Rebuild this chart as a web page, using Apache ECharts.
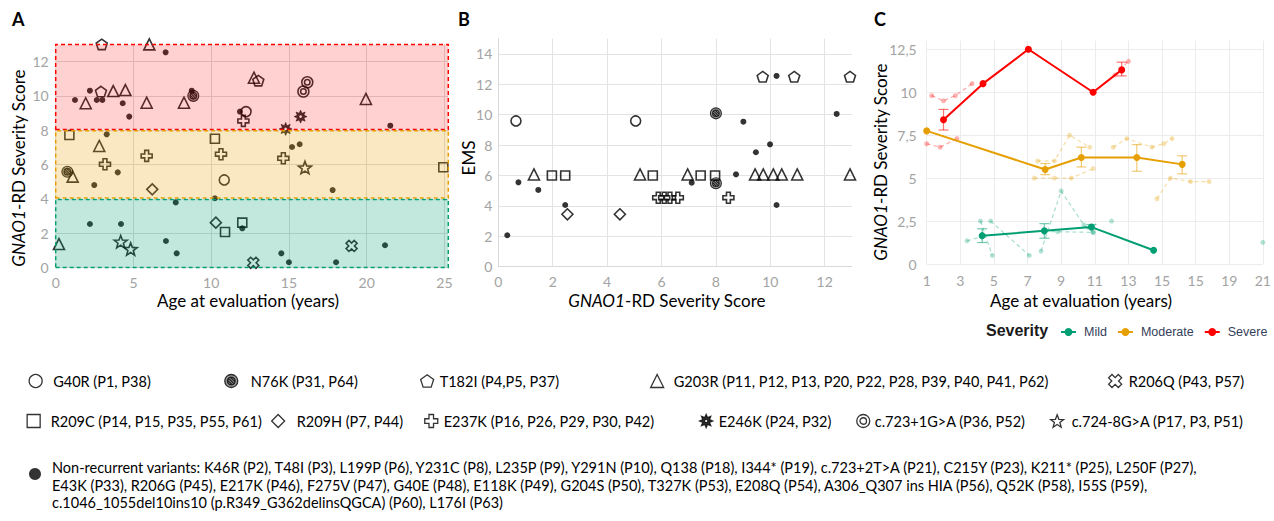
<!DOCTYPE html>
<html><head><meta charset="utf-8">
<script src="https://cdn.jsdelivr.net/npm/echarts@6/dist/echarts.min.js"></script>
<style>html,body{margin:0;padding:0;background:#fff}#c{width:1274px;height:521px}</style>
</head><body><div id="c"></div>
<script>
// ---------------- DATA ----------------
// Panel A: [age at evaluation (years), GNAO1-RD severity score]
const a_G40R  = [[12.24,9.08],[10.84,5.1]];
const a_N76K  = [[8.85,10.0],[0.75,5.58]];
const a_T182I = [[2.96,13.0],[2.91,10.25],[13.03,10.89]];
const a_G203R = [[6.02,13.0],[1.93,9.57],[3.7,10.28],[4.48,10.34],[5.85,9.6],[8.25,9.6],[12.75,11.06],[19.95,9.82],[2.8,7.08],[1.09,5.29],[0.21,1.36]];
const a_R206Q = [[12.71,0.27],[19.03,1.25]];
const a_R209C = [[0.88,7.72],[10.24,7.5],[24.93,5.84],[10.89,2.06],[12.0,2.61]];
const a_R209H = [[6.21,4.55],[10.3,2.61]];
const a_E237K = [[3.17,6.01],[5.85,6.5],[10.63,6.6],[14.64,6.36],[12.07,8.54]];
const a_E246K = [[15.75,8.79],[14.79,8.07]];
const a_c723  = [[16.18,10.79],[15.93,10.25]];
const a_c724  = [[4.18,1.5],[4.82,1.07],[16.03,5.82]];
const a_NonRec = [[7.07,12.54],[1.24,9.76],[2.2,10.3],[2.64,9.76],[3.0,9.76],[4.31,9.57],[4.73,8.79],[8.75,10.3],[11.85,9.08],[21.52,8.26],[3.28,7.76],[2.48,4.8],[3.99,5.54],[15.2,7.02],[15.69,7.18],[17.81,4.51],[10.24,4.03],[2.2,2.53],[4.2,2.53],[7.72,3.79],[7.09,1.54],[7.78,0.82],[12.0,2.28],[14.51,0.82],[15.0,0.3],[18.03,0.3],[21.18,1.29]];
// severity bands in panel A: [from, to]
const bandMild = [0, 3.96], bandModerate = [4.04, 7.96], bandSevere = [8.04, 13];

// Panel B: [GNAO1-RD severity score, EMS]
const b_G40R  = [[0.65,9.59],[5.05,9.59]];
const b_N76K  = [[8.0,10.09],[8.0,5.49]];
const b_T182I = [[9.72,12.5],[10.88,12.5],[12.93,12.5]];
const b_G203R = [[1.31,6.07],[5.21,6.07],[6.96,6.07],[9.44,6.07],[9.74,6.07],[10.11,6.07],[10.42,6.07],[10.99,6.07],[12.93,6.07]];
const b_R209C = [[1.97,6.0],[2.46,6.0],[5.68,6.0],[7.44,6.0],[7.97,6.0]];
const b_R209H = [[2.54,3.45],[4.47,3.45]];
const b_E237K = [[5.88,4.54],[6.1,4.54],[6.31,4.54],[6.6,4.54],[8.46,4.54]];
const b_NonRec = [[0.33,2.07],[0.74,5.55],[1.47,5.05],[2.46,4.06],[7.11,5.53],[8.74,6.08],[9.01,9.54],[9.47,7.53],[9.99,8.05],[10.23,4.06],[10.23,12.55],[12.44,10.05]];

// Panel C: mean trajectories [age, score], error bars [age, low, high]
const severeMean   = [[2.0,8.4],[4.35,10.5],[7.05,12.5],[10.9,10.0],[12.6,11.3]];
const severeErr    = [[2.0,7.8,9.0],[12.6,10.95,11.75]];
const moderateMean = [[1.0,7.75],[8.05,5.5],[10.2,6.2],[13.5,6.2],[16.2,5.8]];
const moderateErr  = [[8.05,5.2,5.85],[10.2,5.65,6.8],[13.5,5.4,6.95],[16.2,5.25,6.3]];
const mildMean     = [[4.3,1.65],[8.0,1.93],[10.8,2.15],[14.5,0.8]];
const mildErr      = [[4.3,1.25,2.05],[8.0,1.5,2.35],[10.8,2.05,2.3]];
// individual (faint, dashed) trajectories
const severeInd = [
  [[1.3,9.8],[2.0,9.5],[2.7,9.8],[3.7,10.5]],
  [[1.0,7.0],[1.8,6.8],[2.8,7.3]],
  [[12.2,11.0],[13.0,11.8]]
];
const moderateInd = [
  [[7.6,6.0],[8.6,6.0],[9.5,7.5],[10.7,6.8]],
  [[7.4,5.0],[8.6,5.0],[9.6,5.0],[10.9,5.55]],
  [[12.1,6.8],[12.9,7.3],[14.4,6.8],[15.1,7.0],[15.6,7.3]],
  [[14.7,3.8],[15.5,5.0],[16.7,4.8],[17.8,4.8]]
];
const mildInd = [
  [[3.4,1.35],[4.3,1.6]],
  [[4.2,2.5],[4.9,0.5]],
  [[4.8,2.5],[7.1,0.5]],
  [[7.8,0.75],[9.0,4.25],[10.35,2.27],[10.9,1.84]],
  [[8.0,1.9],[8.8,1.88],[10.9,1.84]],
  [[12.0,2.5]],
  [[21.0,1.26]]
];
const cXLabels = ['1','3','5','7','9','11','13','15','15','19','21'];

// legend texts
const legendText = {
  G40R: 'G40R (P1, P38)',
  N76K: 'N76K (P31, P64)',
  T182I: 'T182I (P4,P5, P37)',
  G203R: 'G203R (P11, P12, P13, P20, P22, P28, P39, P40, P41, P62)',
  R206Q: 'R206Q (P43, P57)',
  R209C: 'R209C (P14, P15, P35, P55, P61)',
  R209H: 'R209H (P7, P44)',
  E237K: 'E237K (P16, P26, P29, P30, P42)',
  E246K: 'E246K (P24, P32)',
  c723: 'c.723+1G>A (P36, P52)',
  c724: 'c.724-8G>A (P17, P3, P51)'
};
const nonRecLines = [
  'Non-recurrent variants: K46R (P2), T48I (P3), L199P (P6), Y231C (P8), L235P (P9), Y291N (P10), Q138 (P18), I344* (P19), c.723+2T>A (P21), C215Y (P23), K211* (P25), L250F (P27),',
  'E43K (P33), R206G (P45), E217K (P46), F275V (P47), G40E (P48), E118K (P49), G204S (P50), T327K (P53), E208Q (P54), A306_Q307 ins HIA (P56), Q52K (P58), I55S (P59),',
  'c.1046_1055del10ins10 (p.R349_G362delinsQGCA) (P60), L176I (P63)'
];

// ---------------- STYLE ----------------
const RED = '#FF0000', ORANGE = '#E69F00', GREEN = '#009E73';
const FONT = 'Lato';
const TICK = '#a3a3a3';
const hollow = {color:'rgba(0,0,0,0)', borderColor:'#000', borderWidth:1.6};
const sym = {
  G40R:  {symbol:'circle', size:10, style:hollow},
  N76K:  {symbol:'path://M-10,0 A10,10 0 1,1 10,0 A10,10 0 1,1 -10,0 Z M-6,0 A6,6 0 1,1 6,0 A6,6 0 1,1 -6,0 Z M-4.2,-4.2 L4.2,4.2 M-5.5,-1 L1,5.5 M-1,-5.5 L5.5,1', size:11, style:{color:'#8a8a8a', borderColor:'#000', borderWidth:1.1}},
  T182I: {symbol:'path://M0,-10 L9.511,-3.09 L5.878,8.09 L-5.878,8.09 L-9.511,-3.09 Z', size:11, style:hollow},
  G203R: {symbol:'triangle', size:11, style:hollow},
  R206Q: {symbol:'path://M4.596,-9.546 L9.546,-4.596 L4.95,0 L9.546,4.596 L4.596,9.546 L0,4.95 L-4.596,9.546 L-9.546,4.596 L-4.95,0 L-9.546,-4.596 L-4.596,-9.546 L0,-4.95 Z', size:11, style:hollow},
  R209C: {symbol:'rect', size:9, style:hollow},
  R209H: {symbol:'diamond', size:11, style:hollow},
  E237K: {symbol:'path://M-3.5,-10 L3.5,-10 L3.5,-3.5 L10,-3.5 L10,3.5 L3.5,3.5 L3.5,10 L-3.5,10 L-3.5,3.5 L-10,3.5 L-10,-3.5 L-3.5,-3.5 Z', size:11, style:hollow},
  E246K: {symbol:'path://M0,-10 L2.105,-5.081 L7.071,-7.071 L5.081,-2.105 L10,0 L5.081,2.105 L7.071,7.071 L2.105,5.081 L0,10 L-2.105,5.081 L-7.071,7.071 L-5.081,2.105 L-10,0 L-5.081,-2.105 L-7.071,-7.071 L-2.105,-5.081 Z M-2.6,0 A2.6,2.6 0 1,0 2.6,0 A2.6,2.6 0 1,0 -2.6,0 Z', size:13, style:{color:'#000', borderColor:'#000', borderWidth:0.6}},
  c723:  {symbol:'path://M-10,0 A10,10 0 1,1 10,0 A10,10 0 1,1 -10,0 Z M-5,0 A5,5 0 1,1 5,0 A5,5 0 1,1 -5,0 Z', size:11, style:hollow},
  c724:  {symbol:'path://M0,-10 L2.469,-3.398 L9.511,-3.09 L3.995,1.298 L5.878,8.09 L0,4.2 L-5.878,8.09 L-3.995,1.298 L-9.511,-3.09 L-2.469,-3.398 Z', size:13, style:hollow},
  NonRec:{symbol:'circle', size:6, style:{color:'#000'}}
};

function sc(key, data, gi) {
  const s = sym[key];
  return {type:'scatter', name:key, xAxisIndex:gi, yAxisIndex:gi, data:data,
    symbol:s.symbol, symbolSize:s.size, symbolKeepAspect:true,
    itemStyle:s.style, z:2, silent:true, emphasis:{disabled:true}};
}

const series = [];
// Panel A
[['G40R',a_G40R],['N76K',a_N76K],['T182I',a_T182I],['G203R',a_G203R],['R206Q',a_R206Q],['R209C',a_R209C],
 ['R209H',a_R209H],['E237K',a_E237K],['E246K',a_E246K],['c723',a_c723],['c724',a_c724],['NonRec',a_NonRec]]
 .forEach(([k,d]) => series.push(sc(k,d,0)));
// bands overlay (above markers -> tinted markers)
function band(r, fill, stroke) {
  return [{xAxis:'min', yAxis:r[0], itemStyle:{color:fill, borderColor:stroke, borderWidth:1.5, borderType:[4,3]}}, {xAxis:'max', yAxis:r[1]}];
}
series.push({type:'scatter', name:'bands', xAxisIndex:0, yAxisIndex:0, data:[], z:6, silent:true,
  markArea:{silent:true, z:6, data:[
    band(bandSevere,'rgba(255,0,0,0.18)',RED),
    band(bandModerate,'rgba(230,159,0,0.24)',ORANGE),
    band(bandMild,'rgba(0,158,115,0.24)',GREEN)
  ]}});
// Panel B
[['G40R',b_G40R],['N76K',b_N76K],['T182I',b_T182I],['G203R',b_G203R],['R209C',b_R209C],
 ['R209H',b_R209H],['E237K',b_E237K],['NonRec',b_NonRec]]
 .forEach(([k,d]) => series.push(sc(k,d,1)));
// Panel C
function faint(arr, color, tag) {
  arr.forEach((d,i) => series.push({type:'line', name:tag+i, xAxisIndex:2, yAxisIndex:2, data:d,
    symbol:'circle', symbolSize:5, showAllSymbol:true, silent:true, z:2,
    lineStyle:{type:[4,3], width:1.2, color:color, opacity:0.35},
    itemStyle:{color:color, opacity:0.3}, emphasis:{disabled:true}}));
}
faint(severeInd, RED, 'sevInd');
faint(moderateInd, ORANGE, 'modInd');
faint(mildInd, GREEN, 'mildInd');
function errs(data, color) {
  series.push({type:'custom', xAxisIndex:2, yAxisIndex:2, data:data, z:3, silent:true,
    encode:{x:0, y:[1,2]},
    renderItem:(params, api) => {
      const x = api.value(0), p1 = api.coord([x, api.value(1)]), p2 = api.coord([x, api.value(2)]);
      const hw = 5, st = {stroke:color, lineWidth:1.2, opacity:0.55};
      return {type:'group', children:[
        {type:'line', shape:{x1:p1[0], y1:p1[1], x2:p2[0], y2:p2[1]}, style:st},
        {type:'line', shape:{x1:p1[0]-hw, y1:p1[1], x2:p1[0]+hw, y2:p1[1]}, style:st},
        {type:'line', shape:{x1:p2[0]-hw, y1:p2[1], x2:p2[0]+hw, y2:p2[1]}, style:st}
      ]};
    }});
}
errs(severeErr, RED); errs(moderateErr, ORANGE); errs(mildErr, GREEN);
function mean(name, data, color) {
  series.push({type:'line', name:name, xAxisIndex:2, yAxisIndex:2, data:data, z:4, silent:true,
    symbol:'circle', symbolSize:7, showAllSymbol:true, lineStyle:{width:2, color:color},
    itemStyle:{color:color}, emphasis:{disabled:true}});
}
mean('Mild', mildMean, GREEN);
mean('Moderate', moderateMean, ORANGE);
mean('Severe', severeMean, RED);

// ---------------- LAYOUT ----------------
const legendLayout = [
  ['G40R', 35, 381, 6], ['N76K', 230.6, 381, 8], ['T182I', 426.5, 381, 1], ['G203R', 656.5, 381, 5], ['R206Q', 1114.5, 381, 2],
  ['R209C', 33, 421, 5.5], ['R209H', 277.5, 421, 7], ['E237K', 430.6, 421, 1], ['E246K', 705.5, 421, 1], ['c723', 862.6, 421, 0], ['c724', 1056.5, 421, 3]
];
const legends = legendLayout.map(([k, cx, cy, p]) => ({
  left: cx - 6.5, top: cy - 9, padding: 0, itemWidth: 13, itemHeight: 13, selectedMode: false,
  data: [k], formatter: () => legendText[k],
  itemStyle: {borderWidth: 1.3},
  textStyle: {fontFamily: FONT, fontSize: 14.5, color: '#000', lineHeight: 18, padding: [0,0,0,p]}
}));
legends.push({left: 35 - 6, top: 474 - 6, padding: 0, itemWidth: 12, itemHeight: 12, selectedMode: false,
  data: ['NonRec'], formatter: () => '', textStyle: {fontSize: 1}});
legends.push({left: 1060, top: 325, width: 260, padding: 0, itemWidth: 15, itemHeight: 10, itemGap: 10, selectedMode: false,
  orient: 'horizontal',
  data: ['Mild', 'Moderate', 'Severe'],
  textStyle: {fontFamily: 'Liberation Sans', fontSize: 12.5, color: '#34405a', lineHeight: 14, padding: [0,0,0,3]}});

const tickLabel = {color: TICK, fontFamily: FONT, fontSize: 14};
const gridLine = c => ({show: true, lineStyle: {color: c, width: 1}});

const richI = {i: {fontStyle: 'italic', fontFamily: FONT, fontSize: 17, fill: '#000'}};
function title(x, y, text, rot) {
  return {type: 'text', x: x, y: y, rotation: rot ? Math.PI / 2 : 0, silent: true,
    style: {text: text, rich: richI, font: '17px ' + FONT, fill: '#000', align: 'center', verticalAlign: 'middle'}};
}

const option = {
  animation: false,
  textStyle: {fontFamily: FONT},
  grid: [
    {left: 55.7, top: 44.4, width: 392.6, height: 223},
    {left: 498.3, top: 38.7, width: 353.6, height: 228},
    {left: 926.7, top: 40.7, width: 340, height: 223.3}
  ],
  xAxis: [
    {type: 'value', gridIndex: 0, min: 0, max: 25.25, interval: 5, axisLine: {show: false}, axisTick: {show: false},
     axisLabel: {...tickLabel, margin: 8, showMaxLabel: false}, splitLine: {...gridLine('#dcdcdc'), showMaxLine: false}},
    {type: 'value', gridIndex: 1, min: 0, max: 13, interval: 2, axisLine: {show: true, lineStyle: {color: '#d9d9d9'}}, axisTick: {show: false},
     axisLabel: {...tickLabel, margin: 8, showMaxLabel: false}, splitLine: {...gridLine('#e3e3e3'), showMaxLine: false}},
    {type: 'value', gridIndex: 2, min: 1, max: 21, interval: 2, axisLine: {show: false}, axisTick: {show: false},
     axisLabel: {...tickLabel, margin: 9, formatter: v => { const i = Math.round((v - 1) / 2); return cXLabels[i] !== undefined ? cXLabels[i] : ''; }},
     splitLine: gridLine('#ececec')}
  ],
  yAxis: [
    {type: 'value', gridIndex: 0, min: 0, max: 13, interval: 2, axisLine: {show: false}, axisTick: {show: false},
     axisLabel: {...tickLabel, margin: 7, showMaxLabel: false}, splitLine: {...gridLine('#dcdcdc'), showMaxLine: false}},
    {type: 'value', gridIndex: 1, min: 0, max: 15, interval: 2, axisLine: {show: true, lineStyle: {color: '#d9d9d9'}}, axisTick: {show: false},
     axisLabel: {...tickLabel, margin: 6, showMaxLabel: false}, splitLine: {...gridLine('#e3e3e3'), showMaxLine: false}},
    {type: 'value', gridIndex: 2, min: 0, max: 13, interval: 2.5, axisLine: {show: false}, axisTick: {show: false},
     axisLabel: {...tickLabel, margin: 10, showMaxLabel: false, formatter: v => String(v).replace('.', ',')},
     splitLine: {...gridLine('#ececec'), showMaxLine: false}}
  ],
  legend: legends,
  series: series,
  graphic: [
    {type: 'text', left: 12, top: 10, silent: true, style: {text: 'A', font: 'bold 18px ' + FONT, fill: '#000'}},
    {type: 'text', left: 458, top: 10, silent: true, style: {text: 'B', font: 'bold 18px ' + FONT, fill: '#000'}},
    {type: 'text', left: 874, top: 10, silent: true, style: {text: 'C', font: 'bold 18px ' + FONT, fill: '#000'}},
    title(18, 168, '{i|GNAO1}-RD Severity Score', true),
    title(248, 300, 'Age at evaluation (years)', false),
    title(468, 158, 'EMS', true),
    title(667, 300, '{i|GNAO1}-RD Severity Score', false),
    title(880, 162, '{i|GNAO1}-RD Severity Score', true),
    title(1081, 300, 'Age at evaluation (years)', false),
    {type: 'text', left: 986, top: 322, silent: true, style: {text: 'Severity', font: 'bold 16px "Liberation Sans"', fill: '#1a1a1a'}},
    {type: 'text', left: 52, top: 459, silent: true, style: {text: nonRecLines.join('\n'), font: '14.5px ' + FONT, lineHeight: 17.5, fill: '#000'}}
  ]
};
const chart = echarts.init(document.getElementById('c'), null, {renderer: 'svg'});
chart.setOption(option);
</script></body></html>
